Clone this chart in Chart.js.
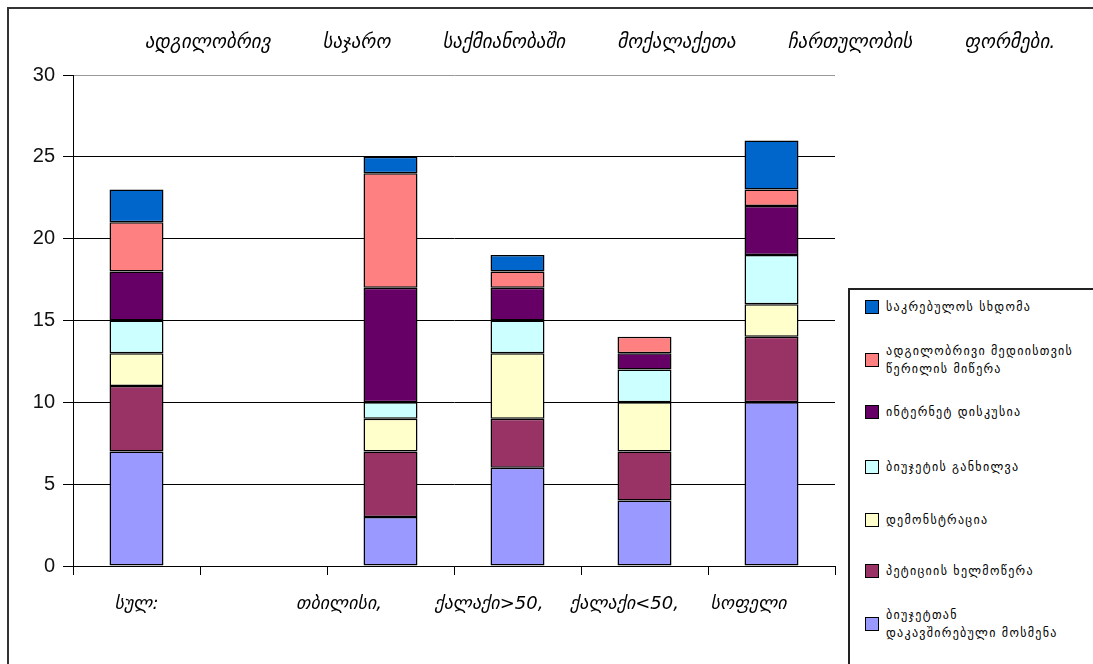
<!DOCTYPE html>
<html><head><meta charset="utf-8">
<script src="https://cdn.jsdelivr.net/npm/chart.js@4.4.1/dist/chart.umd.min.js"></script>
<style>
html,body{margin:0;padding:0;background:#fff;}
#wrap{position:relative;width:1093px;height:664px;overflow:hidden;background:#fff;}
#frame{position:absolute;left:7px;top:7px;width:1200px;height:800px;border:2px solid #333;}
#c{position:absolute;left:0;top:0;}
#title{position:absolute;left:140px;top:30px;width:920px;text-align:center;font-family:"DejaVu Sans";font-style:italic;font-size:19px;word-spacing:46px;color:#000;white-space:nowrap;}
#legend{position:absolute;left:848px;top:288px;width:400px;height:500px;border:2px solid #222;background:#fff;font-family:"DejaVu Sans";font-size:12px;letter-spacing:1.3px;color:#000;}
.item{position:absolute;left:15px;display:flex;align-items:center;}
.sw{width:12px;height:12px;border:1.5px solid #000;flex:none;margin-right:7px;}
.tx{line-height:18px;white-space:nowrap;}
</style></head>
<body><div id="wrap"><div id="frame"></div>
<canvas id="c" width="1093" height="664"></canvas>
<div id="title">ადგილობრივ საჯარო საქმიანობაში მოქალაქეთა ჩართულობის ფორმები.</div>
<div id="legend"></div>
</div>
<script>
const categories = ['სულ:', '', 'თბილისი,', 'ქალაქი>50,', 'ქალაქი<50,', 'სოფელი'];
const seriesNames = [
  'ბიუჯეტთან დაკავშირებული მოსმენა',
  'პეტიციის ხელმოწერა',
  'დემონსტრაცია',
  'ბიუჯეტის განხილვა',
  'ინტერნეტ დისკუსია',
  'ადგილობრივი მედიისთვის წერილის მიწერა',
  'საკრებულოს სხდომა'
];
const budgetHearing   = [7, null, 3, 6, 4, 10];
const petition        = [4, null, 4, 3, 3, 4];
const demonstration   = [2, null, 2, 4, 3, 2];
const budgetReview    = [2, null, 1, 2, 2, 3];
const internetForum   = [3, null, 7, 2, 1, 3];
const mediaLetter     = [3, null, 7, 1, 1, 1];
const councilSession  = [2, null, 1, 1, 0, 3];
const yTicks = [0, 5, 10, 15, 20, 25, 30];

const seriesValues = [budgetHearing, petition, demonstration, budgetReview, internetForum, mediaLetter, councilSession];
const colors = ['#9999FF', '#993366', '#FFFFCC', '#CCFFFF', '#660066', '#FF8080', '#0066CC'];
// legend line breaks and vertical centers (style only)
const legendLines = [
  ['ბიუჯეტთან', 'დაკავშირებული მოსმენა'],
  ['პეტიციის ხელმოწერა'],
  ['დემონსტრაცია'],
  ['ბიუჯეტის განხილვა'],
  ['ინტერნეტ დისკუსია'],
  ['ადგილობრივი მედიისთვის', 'წერილის მიწერა'],
  ['საკრებულოს სხდომა']
];
const legendY = [334, 281, 230, 177, 122, 70, 17];
const labelShift = [0, 0, 18, 10, 7, 8];

const datasets = seriesValues.map((v, i) => ({
  label: seriesNames[i],
  data: v,
  backgroundColor: colors[i],
  borderColor: '#000',
  borderWidth: 1.5,
  borderSkipped: false,
  barPercentage: 0.425,
  categoryPercentage: 1
}));

new Chart(document.getElementById('c'), {
  type: 'bar',
  data: { labels: categories, datasets },
  options: {
    responsive: false,
    animation: false,
    layout: { padding: { left: 0, top: 75, right: 258, bottom: 0 } },
    plugins: { legend: { display: false }, title: { display: false }, tooltip: { enabled: false } },
    scales: {
      x: {
        stacked: true,
        offset: true,
        afterFit: s => { s.height = 98; },
        grid: { offset: true, drawOnChartArea: false, tickLength: 9, color: '#000', lineWidth: 1 },
        border: { color: '#000', width: 1 },
        ticks: {
          autoSkip: false, maxRotation: 0, padding: 19,
          font: { family: 'DejaVu Sans', style: 'italic', size: 18 }, color: '#000',
          callback: (val, idx) => categories[idx] + ' '.repeat(labelShift[idx])
        }
      },
      y: {
        stacked: true,
        min: 0, max: 30,
        afterFit: s => { s.width = 73; },
        afterBuildTicks: s => { s.ticks = yTicks.map(v => ({ value: v })); },
        grid: { color: c => (c.tick && c.tick.value === 30 ? '#999' : '#000'), tickColor: '#000', tickLength: 10, lineWidth: 1 },
        border: { color: '#000', width: 1 },
        ticks: { padding: 8, font: { family: 'Liberation Sans', size: 20 }, color: '#111' }
      }
    }
  }
});

const lg = document.getElementById('legend');
for (let i = 0; i < seriesNames.length; i++) {
  const d = document.createElement('div');
  d.className = 'item';
  const sw = document.createElement('div');
  sw.className = 'sw';
  sw.style.background = colors[i];
  const tx = document.createElement('div');
  tx.className = 'tx';
  tx.innerHTML = legendLines[i].join('<br>');
  d.appendChild(sw); d.appendChild(tx);
  lg.appendChild(d);
  d.style.top = (legendY[i] - d.offsetHeight / 2) + 'px';
}
</script>
</body></html>
